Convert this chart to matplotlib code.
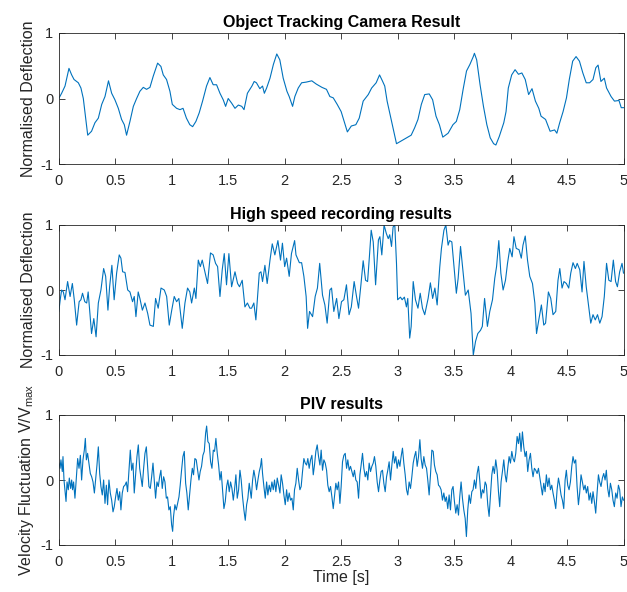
import matplotlib
matplotlib.use('Agg')
import matplotlib.pyplot as plt
import numpy as np

# (time [s], value) pairs

# Object tracking camera
cam = [(0.0, 0.0), (0.025, 0.08), (0.055, 0.19), (0.09, 0.46), (0.114, 0.36), (0.135, 0.29),
       (0.173, 0.24), (0.196, 0.16), (0.217, 0.0), (0.238, -0.3), (0.256, -0.56), (0.29, -0.5),
       (0.32, -0.37), (0.35, -0.3), (0.38, -0.09), (0.409, 0.03), (0.44, 0.27), (0.468, 0.08),
       (0.497, -0.02), (0.527, -0.15), (0.556, -0.32), (0.58, -0.4), (0.6, -0.56), (0.63, -0.35),
       (0.66, -0.12), (0.689, 0.0), (0.718, 0.11), (0.748, 0.17), (0.777, 0.14), (0.807, 0.17),
       (0.836, 0.34), (0.875, 0.54), (0.904, 0.49), (0.925, 0.36), (0.954, 0.29), (0.984, 0.11),
       (1.005, -0.09), (1.043, -0.15), (1.073, -0.17), (1.1, -0.15), (1.13, -0.3), (1.16, -0.4),
       (1.185, -0.43), (1.214, -0.35), (1.243, -0.22), (1.273, -0.04), (1.308, 0.19), (1.338, 0.32),
       (1.367, 0.21), (1.397, 0.21), (1.427, 0.08), (1.456, -0.02), (1.477, -0.12), (1.5, 0.0),
       (1.53, -0.07), (1.56, -0.15), (1.59, -0.1), (1.62, -0.12), (1.64, -0.17), (1.67, 0.08),
       (1.71, 0.19), (1.73, 0.26), (1.75, 0.24), (1.78, 0.15), (1.804, 0.19), (1.82, 0.08),
       (1.84, 0.16), (1.87, 0.31), (1.9, 0.52), (1.93, 0.68), (1.957, 0.59), (1.987, 0.31),
       (2.02, 0.11), (2.04, 0.03), (2.07, -0.12), (2.09, 0.03), (2.12, 0.16), (2.15, 0.24),
       (2.19, 0.25), (2.24, 0.27), (2.28, 0.22), (2.33, 0.17), (2.37, 0.14), (2.4, 0.03),
       (2.43, 0.01), (2.465, -0.09), (2.5, -0.2), (2.53, -0.37), (2.555, -0.51), (2.59, -0.42),
       (2.63, -0.4), (2.66, -0.3), (2.695, -0.04), (2.74, 0.06), (2.77, 0.16), (2.81, 0.24),
       (2.84, 0.36), (2.865, 0.27), (2.886, 0.19), (2.907, -0.04), (2.93, -0.22), (2.96, -0.45),
       (2.99, -0.69), (3.03, -0.65), (3.08, -0.6), (3.12, -0.56), (3.15, -0.45), (3.18, -0.32),
       (3.21, -0.09), (3.24, 0.06), (3.28, 0.07), (3.31, -0.02), (3.34, -0.27), (3.37, -0.4),
       (3.4, -0.59), (3.447, -0.53), (3.49, -0.4), (3.52, -0.35), (3.55, -0.17), (3.58, 0.14),
       (3.61, 0.42), (3.64, 0.52), (3.67, 0.64), (3.68, 0.69), (3.7, 0.59), (3.73, 0.21),
       (3.76, -0.12), (3.79, -0.4), (3.82, -0.6), (3.85, -0.69), (3.87, -0.71), (3.9, -0.58),
       (3.94, -0.37), (3.96, -0.2), (3.98, 0.16), (4.01, 0.36), (4.04, 0.44), (4.07, 0.37),
       (4.1, 0.39), (4.13, 0.29), (4.16, 0.06), (4.19, 0.15), (4.22, -0.04), (4.25, -0.15),
       (4.27, -0.27), (4.31, -0.32), (4.35, -0.5), (4.39, -0.48), (4.41, -0.53), (4.435, -0.37),
       (4.465, -0.2), (4.495, 0.01), (4.52, 0.29), (4.55, 0.57), (4.58, 0.64), (4.61, 0.57),
       (4.64, 0.39), (4.67, 0.24), (4.7, 0.24), (4.73, 0.29), (4.755, 0.47), (4.775, 0.51),
       (4.8, 0.26), (4.83, 0.31), (4.85, 0.16), (4.89, 0.03), (4.92, -0.04), (4.96, -0.03),
       (4.98, -0.14), (5.0, -0.14)]

# High speed recording
hs = [(0.0, -0.33), (0.014, -0.13), (0.025, 0.0), (0.04, -0.03), (0.055, -0.15), (0.078, 0.13),
      (0.1, -0.1), (0.12, 0.1), (0.137, -0.15), (0.158, -0.54), (0.18, -0.18), (0.196, -0.15),
      (0.21, -0.05), (0.23, -0.18), (0.247, -0.2), (0.26, -0.03), (0.29, -0.67), (0.31, -0.44),
      (0.33, -0.72), (0.35, -0.2), (0.373, 0.0), (0.397, 0.33), (0.415, 0.21), (0.435, -0.31),
      (0.45, 0.05), (0.47, 0.38), (0.49, -0.15), (0.512, 0.26), (0.535, 0.54), (0.55, 0.49),
      (0.565, 0.28), (0.586, 0.27), (0.61, 0.0), (0.63, -0.03), (0.653, -0.18), (0.668, -0.1),
      (0.683, -0.41), (0.703, -0.03), (0.718, -0.13), (0.74, -0.31), (0.763, -0.2), (0.787, -0.36),
      (0.807, -0.54), (0.837, -0.56), (0.857, -0.13), (0.88, -0.28), (0.905, 0.03), (0.934, 0.0),
      (0.955, -0.1), (0.978, -0.54), (1.0, -0.31), (1.022, -0.1), (1.043, -0.18), (1.063, -0.13),
      (1.093, -0.59), (1.117, -0.2), (1.14, 0.03), (1.16, -0.03), (1.176, -0.2), (1.2, 0.03),
      (1.214, -0.13), (1.235, 0.46), (1.253, 0.36), (1.27, 0.46), (1.294, 0.28), (1.317, 0.1),
      (1.343, 0.57), (1.367, 0.54), (1.388, 0.41), (1.406, 0.36), (1.427, -0.1), (1.447, 0.31),
      (1.465, 0.56), (1.485, 0.08), (1.506, 0.56), (1.53, 0.05), (1.56, 0.28), (1.583, 0.1),
      (1.6, 0.05), (1.624, 0.15), (1.648, -0.26), (1.67, -0.2), (1.692, -0.28), (1.707, -0.28),
      (1.727, -0.2), (1.745, -0.46), (1.775, 0.26), (1.79, 0.28), (1.804, 0.13), (1.825, 0.38),
      (1.845, 0.1), (1.87, 0.46), (1.89, 0.71), (1.913, 0.54), (1.94, 0.76), (1.963, 0.46),
      (1.98, 0.72), (2.0, 0.36), (2.017, 0.49), (2.04, 0.21), (2.06, 0.56), (2.088, 0.76),
      (2.1, 0.54), (2.13, 0.42), (2.15, 0.42), (2.17, 0.21), (2.19, -0.1), (2.203, -0.59),
      (2.22, -0.33), (2.247, -0.41), (2.27, -0.1), (2.29, 0.03), (2.31, 0.41), (2.335, -0.08),
      (2.356, -0.23), (2.376, -0.51), (2.4, 0.0), (2.415, 0.03), (2.435, -0.33), (2.46, -0.13),
      (2.48, -0.44), (2.503, -0.18), (2.524, -0.15), (2.547, 0.08), (2.57, -0.38), (2.59, -0.26),
      (2.615, 0.13), (2.636, -0.1), (2.654, -0.28), (2.675, 0.08), (2.695, 0.45), (2.716, 0.15),
      (2.734, 0.13), (2.75, 0.51), (2.766, 0.92), (2.784, 0.74), (2.805, 0.08), (2.83, 0.77),
      (2.843, 0.82), (2.86, 0.54), (2.88, 1.0), (2.9, 0.87), (2.917, 0.79), (2.93, 0.85),
      (2.946, 0.67), (2.96, 0.97), (2.975, 1.0), (2.99, 0.41), (3.0, -0.15), (3.025, -0.11),
      (3.04, -0.15), (3.06, -0.11), (3.078, -0.26), (3.09, -0.13), (3.107, -0.74), (3.12, -0.56),
      (3.138, 0.13), (3.158, -0.15), (3.18, -0.28), (3.2, -0.05), (3.22, -0.28), (3.24, -0.38),
      (3.27, -0.13), (3.29, 0.11), (3.31, -0.13), (3.33, 0.03), (3.35, -0.23), (3.373, 0.35),
      (3.388, 0.64), (3.41, 0.92), (3.427, 1.0), (3.447, 0.69), (3.46, 0.76), (3.48, 0.74),
      (3.497, 0.41), (3.52, -0.05), (3.536, 0.18), (3.557, 0.67), (3.58, 0.26), (3.6, -0.08),
      (3.625, 0.0), (3.65, -0.36), (3.67, -1.0), (3.69, -0.79), (3.71, -0.67), (3.734, -0.62),
      (3.75, -0.56), (3.77, -0.13), (3.795, -0.56), (3.816, -0.33), (3.84, -0.15), (3.86, 0.18),
      (3.876, 0.36), (3.896, 0.76), (3.914, 0.26), (3.934, 0.0), (3.955, 0.15), (3.973, 0.41),
      (3.993, 0.64), (4.014, 0.51), (4.03, 0.82), (4.05, 0.64), (4.075, 0.62), (4.095, 0.49),
      (4.11, 0.69), (4.13, 0.83), (4.15, 0.46), (4.17, 0.21), (4.194, 0.1), (4.215, -0.2),
      (4.23, -0.67), (4.25, -0.46), (4.273, -0.23), (4.294, -0.54), (4.31, -0.51), (4.335, -0.03),
      (4.356, -0.13), (4.376, -0.38), (4.4, -0.33), (4.42, 0.15), (4.436, 0.33), (4.456, 0.03),
      (4.473, 0.13), (4.494, 0.1), (4.515, 0.03), (4.533, 0.26), (4.553, 0.42), (4.574, 0.33),
      (4.59, 0.41), (4.613, 0.31), (4.633, -0.03), (4.65, 0.44), (4.67, 0.05), (4.69, -0.23),
      (4.71, -0.51), (4.73, -0.38), (4.75, -0.46), (4.77, -0.38), (4.79, -0.51), (4.81, -0.41),
      (4.83, -0.1), (4.85, 0.41), (4.87, 0.15), (4.89, 0.13), (4.91, 0.46), (4.93, 0.13),
      (4.946, 0.05), (4.966, 0.28), (4.987, 0.41), (5.0, 0.26)]

# PIV velocity fluctuation
piv = [(0.002, 0.26), (0.011, 0.18), (0.019, 0.31), (0.031, 0.13), (0.037, 0.36), (0.046, 0.0),
       (0.054, -0.15), (0.064, -0.33), (0.073, -0.03), (0.084, -0.15), (0.093, 0.03), (0.105, -0.13),
       (0.114, 0.0), (0.122, -0.15), (0.131, -0.03), (0.143, -0.28), (0.155, 0.03), (0.167, 0.33),
       (0.179, 0.18), (0.191, 0.38), (0.202, 0.0), (0.214, 0.31), (0.226, 0.46), (0.235, 0.64),
       (0.244, 0.31), (0.255, 0.41), (0.267, 0.26), (0.279, 0.1), (0.291, 0.05), (0.303, -0.03),
       (0.315, -0.2), (0.326, 0.0), (0.338, 0.23), (0.35, 0.51), (0.362, 0.1), (0.373, -0.1),
       (0.385, -0.23), (0.397, 0.0), (0.409, -0.36), (0.421, -0.08), (0.432, -0.38), (0.444, 0.0),
       (0.456, -0.2), (0.468, -0.31), (0.48, -0.49), (0.491, -0.41), (0.503, -0.26), (0.515, -0.13),
       (0.527, -0.31), (0.539, -0.18), (0.55, -0.46), (0.562, -0.2), (0.574, -0.1), (0.586, -0.08),
       (0.598, -0.03), (0.609, -0.18), (0.621, 0.15), (0.633, 0.46), (0.645, 0.15), (0.657, 0.26),
       (0.668, -0.2), (0.68, 0.08), (0.692, 0.36), (0.704, 0.54), (0.716, 0.18), (0.727, 0.05),
       (0.739, -0.1), (0.751, 0.18), (0.763, 0.41), (0.775, 0.51), (0.786, 0.21), (0.798, -0.1),
       (0.81, -0.13), (0.822, 0.05), (0.834, 0.26), (0.845, 0.0), (0.857, -0.28), (0.869, -0.03),
       (0.881, -0.1), (0.893, 0.05), (0.904, 0.15), (0.916, -0.13), (0.928, 0.05), (0.94, -0.03),
       (0.952, -0.28), (0.963, -0.26), (0.975, -0.46), (0.987, -0.41), (0.999, -0.69), (1.008, -0.79),
       (1.016, -0.56), (1.028, -0.38), (1.04, -0.46), (1.052, -0.36), (1.064, -0.26), (1.075, -0.08),
       (1.087, 0.15), (1.099, 0.36), (1.111, 0.44), (1.123, -0.05), (1.134, -0.2), (1.146, -0.46),
       (1.158, -0.23), (1.17, 0.0), (1.182, 0.18), (1.193, 0.08), (1.205, 0.33), (1.217, 0.31),
       (1.229, 0.15), (1.241, 0.0), (1.252, 0.13), (1.264, 0.21), (1.276, 0.38), (1.288, 0.44),
       (1.3, 0.72), (1.309, 0.83), (1.32, 0.59), (1.332, 0.56), (1.344, 0.28), (1.356, 0.18),
       (1.368, 0.46), (1.379, 0.44), (1.391, 0.64), (1.403, 0.41), (1.415, 0.23), (1.427, 0.0),
       (1.438, 0.13), (1.45, -0.15), (1.462, -0.44), (1.474, -0.33), (1.486, -0.1), (1.497, 0.0),
       (1.509, -0.18), (1.521, -0.03), (1.533, -0.13), (1.545, -0.31), (1.556, -0.15), (1.568, 0.08),
       (1.58, -0.28), (1.592, -0.15), (1.604, 0.15), (1.615, 0.0), (1.627, -0.26), (1.639, -0.46),
       (1.651, -0.62), (1.663, -0.38), (1.674, -0.28), (1.686, -0.05),
       (1.692, -0.13), (1.704, -0.28), (1.716, 0.0), (1.727, 0.15), (1.739, 0.03), (1.751, -0.15),
       (1.763, 0.0), (1.775, 0.13), (1.786, 0.21), (1.795, 0.33), (1.804, 0.1), (1.816, -0.1),
       (1.828, -0.28), (1.84, -0.03), (1.851, -0.23), (1.863, -0.08), (1.875, -0.18), (1.887, -0.03),
       (1.899, -0.15), (1.91, 0.0), (1.922, -0.18), (1.934, 0.03), (1.946, -0.08), (1.958, -0.2),
       (1.969, 0.08), (1.981, -0.05), (1.993, -0.23), (2.005, -0.38), (2.017, -0.15), (2.028, -0.33),
       (2.04, -0.2), (2.052, -0.31), (2.064, -0.28), (2.076, -0.46), (2.087, -0.15), (2.099, -0.05),
       (2.111, 0.18), (2.123, 0.0), (2.135, -0.15), (2.146, -0.1), (2.158, 0.13), (2.17, 0.33),
       (2.182, 0.26), (2.194, 0.23), (2.205, 0.33), (2.217, 0.18), (2.229, 0.31), (2.241, 0.38),
       (2.253, 0.08), (2.264, 0.23), (2.276, 0.44), (2.288, 0.54), (2.3, 0.36), (2.312, 0.23),
       (2.323, 0.46), (2.335, 0.15), (2.347, 0.31), (2.359, 0.26), (2.371, 0.15), (2.382, -0.08),
       (2.394, -0.18), (2.406, -0.1), (2.418, -0.26), (2.43, -0.44), (2.441, -0.26), (2.453, -0.05),
       (2.465, -0.15), (2.477, -0.03), (2.489, -0.36), (2.5, -0.1), (2.512, 0.28), (2.524, 0.38),
       (2.536, 0.41), (2.548, 0.18), (2.559, 0.31), (2.571, 0.15), (2.583, 0.21), (2.595, 0.13),
       (2.607, 0.05), (2.618, 0.15), (2.63, 0.0), (2.642, -0.03), (2.654, -0.28), (2.666, 0.08),
       (2.677, 0.23), (2.689, 0.41), (2.701, 0.18), (2.713, 0.05), (2.725, 0.13), (2.736, 0.0),
       (2.748, 0.26), (2.76, 0.13), (2.772, 0.21), (2.784, 0.26), (2.795, 0.36), (2.807, 0.21),
       (2.819, -0.03), (2.831, -0.18), (2.843, 0.0), (2.854, 0.13), (2.866, 0.15), (2.878, -0.05),
       (2.89, -0.18), (2.902, 0.05), (2.913, 0.15), (2.925, 0.28), (2.937, 0.0), (2.949, 0.23),
       (2.961, 0.44), (2.972, 0.26), (2.984, 0.36), (2.996, 0.18), (3.008, 0.31), (3.02, 0.21),
       (3.031, 0.36), (3.043, 0.49), (3.055, 0.26), (3.067, 0.08), (3.079, -0.15), (3.09, -0.23),
       (3.102, -0.03), (3.114, -0.13), (3.126, 0.05), (3.138, 0.26), (3.149, 0.36), (3.161, 0.44),
       (3.173, 0.21), (3.185, 0.36), (3.197, 0.62), (3.208, 0.33), (3.22, 0.18), (3.232, 0.36),
       (3.244, 0.23), (3.256, 0.18), (3.267, 0.0), (3.279, -0.23), (3.291, 0.08), (3.303, 0.46),
       (3.315, 0.44), (3.326, 0.23), (3.338, 0.13), (3.35, 0.08), (3.362, -0.08),
       (3.373, -0.1), (3.385, -0.15), (3.397, -0.31), (3.409, -0.2), (3.421, -0.33), (3.432, -0.26),
       (3.444, -0.44), (3.456, -0.23), (3.468, -0.46), (3.48, -0.15), (3.491, -0.1), (3.503, -0.33),
       (3.515, -0.51), (3.527, -0.38), (3.539, -0.54), (3.55, -0.26), (3.562, -0.03), (3.574, -0.28),
       (3.586, -0.46), (3.598, -0.59), (3.609, -0.87), (3.621, -0.46), (3.633, -0.23), (3.645, -0.36),
       (3.657, -0.18), (3.668, -0.15), (3.68, 0.0), (3.692, -0.13), (3.704, 0.1), (3.716, 0.21),
       (3.727, 0.0), (3.739, -0.28), (3.751, -0.15), (3.763, -0.2), (3.775, -0.03), (3.786, -0.08),
       (3.798, -0.38), (3.81, -0.56), (3.822, -0.23), (3.834, 0.08), (3.845, 0.21), (3.857, 0.1),
       (3.869, 0.31), (3.881, 0.15), (3.893, -0.18), (3.904, -0.41), (3.916, -0.03), (3.928, 0.13),
       (3.94, 0.31), (3.952, 0.08), (3.963, -0.03), (3.975, 0.18), (3.987, 0.36), (3.999, 0.26),
       (4.011, 0.44), (4.022, 0.33), (4.034, 0.28), (4.046, 0.41), (4.058, 0.67), (4.07, 0.56),
       (4.081, 0.72), (4.093, 0.44), (4.105, 0.74), (4.117, 0.51), (4.129, 0.36), (4.14, 0.44),
       (4.152, 0.13), (4.164, 0.31), (4.176, 0.41), (4.188, 0.18), (4.199, 0.05), (4.211, 0.18),
       (4.223, 0.15), (4.235, 0.1), (4.247, 0.18), (4.258, 0.05), (4.27, -0.1), (4.282, -0.23),
       (4.294, -0.05), (4.306, -0.18), (4.317, 0.08), (4.329, -0.1), (4.341, 0.03), (4.353, -0.15),
       (4.365, -0.08), (4.376, -0.2), (4.388, -0.31), (4.4, -0.44), (4.412, -0.15), (4.424, 0.03),
       (4.435, -0.08), (4.447, -0.23), (4.459, -0.31), (4.471, -0.44), (4.483, 0.0), (4.494, 0.15),
       (4.506, -0.08), (4.518, -0.15), (4.53, -0.03), (4.542, 0.21), (4.553, 0.36), (4.565, 0.26),
       (4.577, 0.31), (4.589, -0.1), (4.601, -0.38), (4.612, -0.2), (4.624, 0.08), (4.636, -0.03),
       (4.648, -0.15), (4.66, -0.08), (4.671, -0.2), (4.683, -0.1), (4.695, -0.31), (4.707, -0.2),
       (4.719, -0.36), (4.73, -0.18), (4.742, -0.33), (4.754, -0.51), (4.766, -0.2), (4.778, 0.08),
       (4.789, -0.03), (4.801, -0.1), (4.813, 0.03), (4.825, 0.1), (4.837, 0.0), (4.848, 0.15),
       (4.86, -0.13), (4.872, -0.26), (4.884, -0.05), (4.896, -0.15), (4.907, -0.31), (4.919, -0.41),
       (4.931, -0.2), (4.943, -0.28), (4.955, -0.08), (4.966, -0.15), (4.978, -0.41), (4.99, -0.26),
       (5.0, -0.31)]

titles = ['Object Tracking Camera Result', 'High speed recording results', 'PIV results']
ylabels = ['Normalised Deflection', 'Normalised Deflection', 'Velocity Fluctuation V/V$_{max}$']
xticks = [0, 0.5, 1, 1.5, 2, 2.5, 3, 3.5, 4, 4.5, 5]
xticklabels = ['0', '0.5', '1', '1.5', '2', '2.5', '3', '3.5', '4', '4.5', '5']
yticks = [-1, 0, 1]
yticklabels = ['-1', '0', '1']

plt.rcParams['font.family'] = ['Liberation Sans', 'DejaVu Sans']
plt.rcParams['mathtext.default'] = 'regular'

fig = plt.figure(figsize=(6.27, 5.92), dpi=100)
W, H = 627.0, 592.0
left, right = 58.8, 623.5
tops = [33, 225, 415]
bottoms = [164, 355, 545]
grey = '#262626'

for i, data in enumerate([cam, hs, piv]):
    t, y = np.array(data).T
    ax = fig.add_axes([left / W, 1 - bottoms[i] / H, (right - left) / W, (bottoms[i] - tops[i]) / H])
    ax.plot(t, y, color='#0072BD', lw=0.8)
    ax.set_xlim(0, 5)
    ax.set_ylim(-1, 1)
    ax.set_xticks(xticks)
    ax.set_xticklabels(xticklabels)
    ax.set_yticks(yticks)
    ax.set_yticklabels(yticklabels)
    ax.tick_params(direction='in', top=True, right=True, length=4, width=0.6,
                   labelsize=10.5, colors=grey)
    ax.tick_params(axis='x', pad=7)
    ax.tick_params(axis='y', pad=4)
    for s in ax.spines.values():
        s.set_linewidth(0.6)
        s.set_color(grey)
    ax.set_title(titles[i], fontsize=11.5, fontweight='bold', pad=4, color='black')
    ax.set_ylabel(ylabels[i], fontsize=11.5, color=grey, labelpad=3)
    if i == 2:
        ax.set_xlabel('Time [s]', fontsize=11.5, color=grey, labelpad=1)

fig.savefig('out.png', dpi=100)
